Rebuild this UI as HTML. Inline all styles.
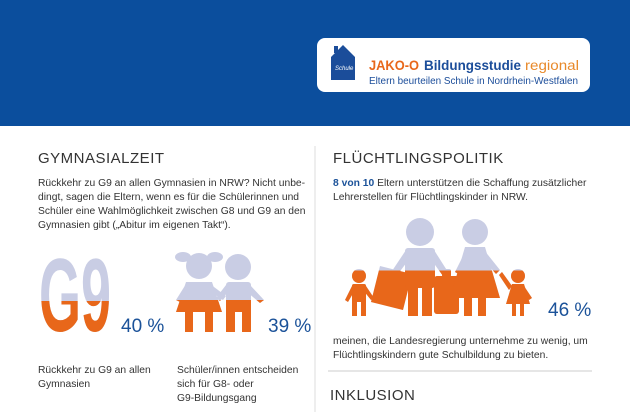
<!DOCTYPE html>
<html><head><meta charset="utf-8"><style>
body{margin:0;width:630px;height:412px;overflow:hidden;background:#fff;font-family:"Liberation Sans",sans-serif;}
svg{display:block}
</style></head><body>
<svg width="630" height="412" viewBox="0 0 630 412">
<defs>
<clipPath id="cg9"><rect id="cg9r" x="0" y="0" width="630" height="412"/></clipPath>
<clipPath id="ckid"><rect id="ckidr" x="0" y="0" width="630" height="412"/></clipPath>
<clipPath id="cfam"><rect id="cfamr" x="0" y="0" width="630" height="412"/></clipPath>
</defs>
<rect x="0" y="0" width="630" height="126" fill="#0b4e9d"/>
<g>
<rect x="317" y="38" width="273" height="54" rx="8" fill="#fff"/>
<path d="M331 80 V57 L343 45 L355 57 V80 Z" fill="#1b4d9a"/>
<rect x="334" y="46" width="4" height="7" fill="#1b4d9a"/>
<text x="335" y="70" font-size="6" fill="#fff" font-style="italic">Schule</text>
<text x="369" y="70" font-size="14" font-weight="bold" fill="#e8671a" textLength="50" lengthAdjust="spacingAndGlyphs">JAKO-O</text>
<text x="424" y="70" font-size="14" font-weight="bold" fill="#1b4d9a" textLength="97" lengthAdjust="spacingAndGlyphs">Bildungsstudie</text>
<text x="525" y="70" font-size="14" fill="#e8892a" textLength="54" lengthAdjust="spacingAndGlyphs">regional</text>
<text x="369" y="84" font-size="10" fill="#1b4d9a" textLength="209" lengthAdjust="spacingAndGlyphs">Eltern beurteilen Schule in Nordrhein-Westfalen</text>
</g>
<line x1="315" y1="146" x2="315" y2="412" stroke="#ddd"/>
<g fill="#333">
<text x="38" y="163" font-size="15" letter-spacing="0.5">GYMNASIALZEIT</text>
<g font-size="10.3">
<text x="38" y="186">Rückkehr zu G9 an allen Gymnasien in NRW? Nicht unbe-</text>
<text x="38" y="200">dingt, sagen die Eltern, wenn es für die Schülerinnen und</text>
<text x="38" y="214">Schüler eine Wahlmöglichkeit zwischen G8 und G9 an den</text>
<text x="38" y="228">Gymnasien gibt („Abitur im eigenen Takt“).</text>
</g>
<g id="g9">
<text x="39" y="331" font-size="104" font-weight="bold" fill="#c9cde4" textLength="72" lengthAdjust="spacingAndGlyphs">G9</text>
<text x="39" y="331" font-size="104" font-weight="bold" fill="#e8671a" textLength="72" lengthAdjust="spacingAndGlyphs" clip-path="url(#cg9)">G9</text>
</g>
<text id="v1" x="121" y="332" font-size="19" fill="#1b5299"></text>
<g id="kids"></g>
<text id="v2" x="268" y="332" font-size="19" fill="#1b5299"></text>
<g font-size="10.3"><text x="38" y="373">Rückkehr zu G9 an allen</text><text x="38" y="387">Gymnasien</text></g>
<g font-size="10.3"><text x="177" y="373">Schüler/innen entscheiden</text><text x="177" y="387">sich für G8- oder</text><text x="177" y="401">G9-Bildungsgang</text></g>
</g>
<g fill="#333">
<text x="333" y="163" font-size="15" letter-spacing="0.5">FLÜCHTLINGSPOLITIK</text>
<g font-size="10.3">
<text x="333" y="186"><tspan fill="#1b5299" font-weight="bold">8 von 10</tspan> Eltern unterstützen die Schaffung zusätzlicher</text>
<text x="333" y="200">Lehrerstellen für Flüchtlingskinder in NRW.</text>
</g>
<g id="fam"></g>
<text id="v3" x="548" y="316" font-size="19" fill="#1b5299"></text>
<g font-size="10.3"><text x="333" y="344">meinen, die Landesregierung unternehme zu wenig, um</text><text x="333" y="358">Flüchtlingskindern gute Schulbildung zu bieten.</text></g>
<line x1="328" y1="371" x2="592" y2="371" stroke="#ccc"/>
<text x="330" y="400" font-size="15" letter-spacing="0.5">INKLUSION</text>
</g>
</svg>
<script>
const labels = ["G9 an allen Gymnasien", "Wahl G8/G9", "Landesregierung zu wenig"];
const values = [40, 39, 46];
const unit = " %";
function levelY(v, top, bottom){ return bottom - (bottom - top) * v / 100; }
function setClip(id, v, top, bottom){
  const r = document.getElementById(id);
  const y = levelY(v, top, bottom);
  r.setAttribute('y', y); r.setAttribute('height', 412 - y);
}
setClip('cg9r', values[0], 256, 331);
setClip('ckidr', values[1], 250, 332);
setClip('cfamr', values[2], 217, 316);
document.getElementById('v1').textContent = values[0] + unit;
document.getElementById('v2').textContent = values[1] + unit;
document.getElementById('v3').textContent = values[2] + unit;
const NS = 'http://www.w3.org/2000/svg';
function shapes(g, markup, clip){
  ['#c9cde4','#e8671a'].forEach((c,i)=>{
    const s = document.createElementNS(NS,'g');
    s.setAttribute('fill', c);
    if(i) s.setAttribute('clip-path','url(#'+clip+')');
    s.innerHTML = markup;
    g.appendChild(s);
  });
}
shapes(document.getElementById('kids'),
 '<circle cx="199" cy="266" r="13"/><ellipse cx="183" cy="257" rx="8" ry="5"/><ellipse cx="215" cy="257" rx="8" ry="5"/>'+
 '<path d="M186 282 H212 L222 312 H176 Z"/><path d="M186 284 L176 300 L180 302 L190 290 Z"/><path d="M210 284 L226 296 L223 300 L208 290 Z"/>'+
 '<rect x="185" y="310" width="8" height="22"/><rect x="205" y="310" width="8" height="22"/>'+
 '<circle cx="238" cy="267" r="13"/><rect x="226" y="282" width="25" height="30" rx="3"/><path d="M226 285 L216 298 L220 301 L230 290 Z"/><path d="M250 285 L264 300 L260 303 L247 292 Z"/>'+
 '<rect x="226" y="308" width="9" height="24"/><rect x="242" y="308" width="9" height="24"/>', 'ckid');
shapes(document.getElementById('fam'),
 '<circle cx="359" cy="276" r="7"/><rect x="352" y="284" width="14" height="18" rx="2"/><path d="M352 286 L345 300 L348 302 L355 290Z"/><path d="M366 286 L374 298 L371 300 L363 290Z"/><rect x="352" y="300" width="5" height="16"/><rect x="361" y="300" width="5" height="16"/>'+
 '<path d="M380 266 L412 274 L403 310 L371 302 Z"/>'+
 '<circle cx="420" cy="232" r="14"/><rect x="405" y="248" width="30" height="40" rx="3"/><path d="M406 250 L390 274 L395 278 L410 258Z"/><path d="M434 250 L448 272 L443 276 L430 258Z"/><rect x="408" y="286" width="10" height="30"/><rect x="422" y="286" width="10" height="30"/>'+
 '<rect x="434" y="276" width="25" height="38" rx="3"/><rect x="442" y="269" width="9" height="8" rx="2"/>'+
 '<circle cx="475" cy="232" r="13"/><path d="M465 247 H485 L500 298 H450 Z"/><path d="M466 250 L455 272 L460 275 L470 256Z"/><path d="M484 250 L500 270 L496 274 L480 256Z"/><rect x="464" y="296" width="8" height="20"/><rect x="478" y="296" width="8" height="20"/>'+
 '<circle cx="518" cy="276" r="7"/><path d="M512 284 H524 L530 304 H506 Z"/><path d="M512 286 L502 272 L499 275 L509 290Z"/><path d="M524 286 L532 298 L529 300 L521 290Z"/><rect x="512" y="302" width="4" height="14"/><rect x="520" y="302" width="4" height="14"/>', 'cfam');
</script>
</body></html>
